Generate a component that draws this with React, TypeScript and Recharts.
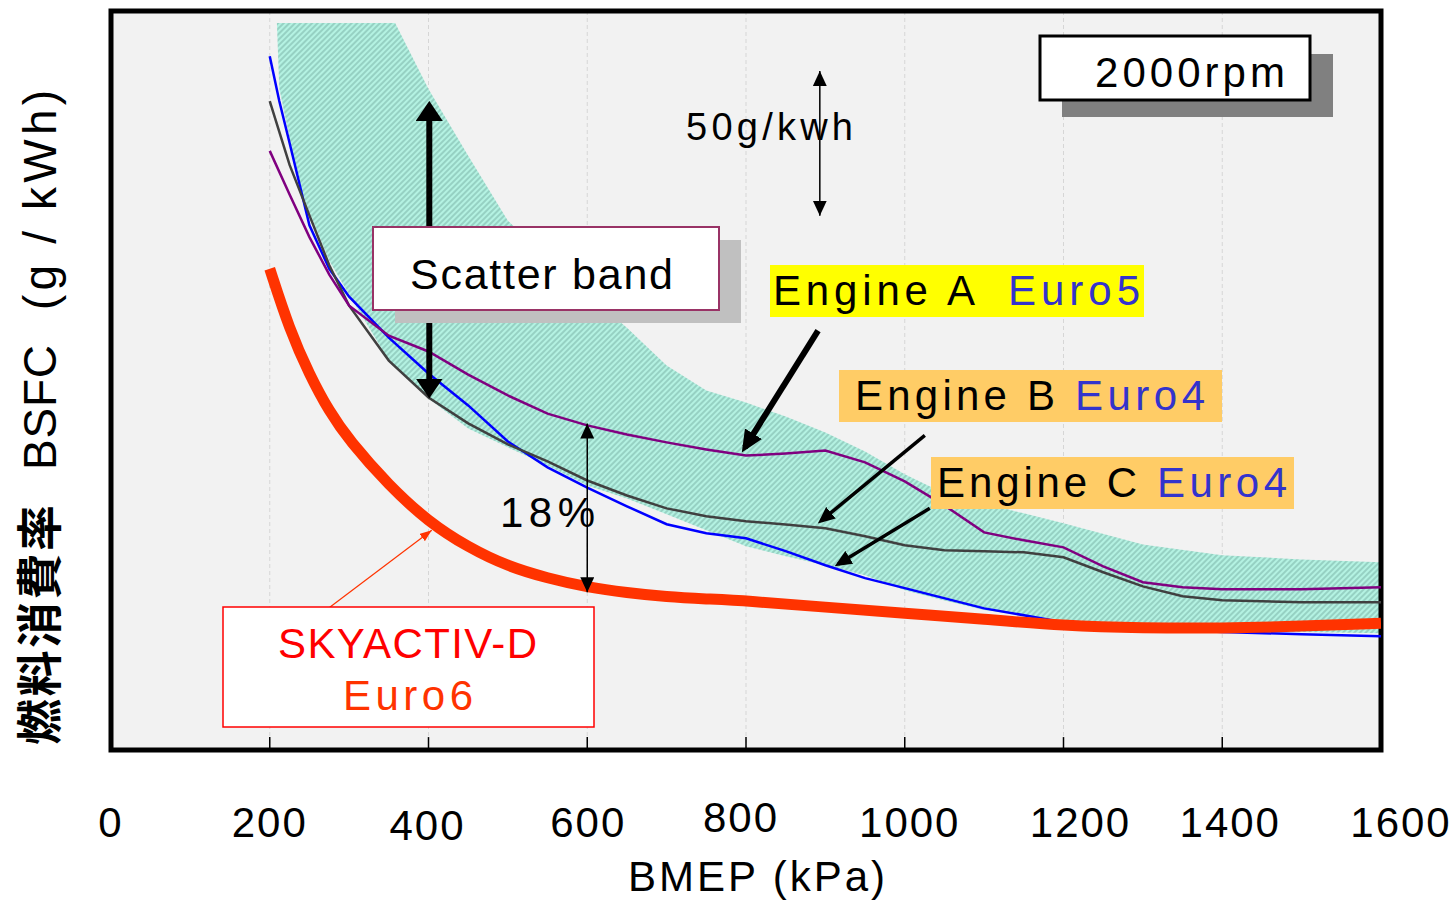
import React from "react";
import {
  ComposedChart,
  Line,
  Area,
  XAxis,
  YAxis,
  CartesianGrid,
  ReferenceLine,
  ReferenceArea,
} from "recharts";

// ---------- data ----------
const BMEP_TICKS = [0, 200, 400, 600, 800, 1000, 1200, 1400, 1600];

const SKY_BMEP = [200, 225, 250, 275, 300, 350, 400, 450, 500, 550, 600, 650, 700, 750, 800, 900, 1000, 1100, 1200, 1300, 1400, 1500, 1600];
const SKY_BSFC = [344.1, 323.3, 308.0, 295.4, 285.6, 270.2, 257.8, 249.1, 242.6, 238.6, 235.5, 233.6, 232.2, 231.5, 230.9, 228.7, 226.6, 224.6, 222.4, 221.6, 221.5, 222.2, 223.2];

const C_BMEP = [200, 212, 225, 250, 275, 300, 350, 400, 450, 500, 550, 600, 650, 700, 750, 800, 850, 900, 950, 1000, 1100, 1200, 1300, 1400, 1500, 1600];
const C_BSFC = [416.6, 401.3, 387.0, 358.9, 344.1, 334.6, 320.6, 308.4, 297.5, 285.2, 276.4, 269.5, 263.1, 257.0, 253.9, 252.2, 247.8, 243.0, 238.6, 235.2, 228.3, 223.6, 221.5, 220.2, 219.5, 218.8];

const B_BMEP = [200, 225, 250, 275, 300, 350, 400, 450, 500, 550, 600, 650, 700, 750, 800, 850, 900, 950, 1000, 1050, 1100, 1150, 1200, 1250, 1300, 1350, 1400, 1500, 1600];
const B_BSFC = [401.3, 379.5, 362.3, 345.3, 331.5, 312.8, 300.2, 291.4, 284.2, 278.4, 271.9, 266.8, 262.4, 259.7, 258.0, 256.9, 255.6, 252.9, 249.8, 248.1, 247.8, 247.4, 245.7, 240.6, 235.8, 232.4, 231.1, 230.4, 230.4];

const A_BMEP = [200, 225, 250, 275, 300, 350, 400, 450, 500, 550, 600, 650, 700, 750, 800, 850, 900, 950, 1000, 1050, 1100, 1150, 1200, 1250, 1300, 1350, 1400, 1500, 1600];
const A_BSFC = [384.3, 369.4, 354.9, 342.1, 331.5, 321.3, 315.9, 308.0, 300.9, 294.7, 290.7, 287.6, 284.9, 282.5, 280.4, 281.1, 282.1, 278.1, 271.6, 263.4, 254.2, 251.5, 249.1, 242.6, 237.2, 235.5, 234.8, 234.8, 235.5];

const BAND_BMEP = [209, 212, 225, 238, 250, 275, 300, 350, 358, 400, 450, 500, 550, 600, 650, 700, 750, 800, 850, 900, 950, 1000, 1050, 1100, 1150, 1200, 1300, 1400, 1500, 1600];
const BAND_LOW = [427.9, 405.7, 388.7, 371.7, 363.5, 346.8, 335.3, 312.8, 310.7, 299.9, 289.6, 283.2, 277.0, 270.2, 265.8, 260.4, 254.9, 249.5, 246.1, 243.0, 239.6, 234.5, 231.0, 227.7, 226.0, 224.3, 221.9, 220.5, 220.2, 219.8];
const BAND_HIGH = [427.9, 427.9, 427.9, 427.9, 427.9, 427.9, 427.9, 427.9, 427.9, 405.4, 382.6, 360.5, 347.5, 335.6, 324.0, 311.1, 302.6, 298.5, 293.7, 288.3, 281.8, 274.0, 267.5, 264.1, 260.7, 257.3, 250.1, 246.4, 245.0, 244.0];

// annotation arrows in data units: [x1, y1, x2, y2]
const ARROW_50G = [893, 362.2, 893, 411.5];
const ARROW_SCATTER = [401, 301.9, 401, 399.3];
const ARROW_18 = [600, 233.8, 600, 291.3];
const ARROW_A = [890.8, 323.0, 798.7, 283.2];
const ARROW_B = [1025.3, 287.3, 894.4, 258.1];
const ARROW_C = [1031.5, 262.4, 916.1, 243.4];
const ARROW_SKY = [275.6, 228.7, 404.1, 254.9];

const X_DOMAIN = [0, 1600];
const Y_DOMAIN = [180, 432];

// ---------- helpers ----------
const zip = (xs: number[], ys: number[]) => xs.map((x, i) => ({ x, y: ys[i] }));
const skyData = zip(SKY_BMEP, SKY_BSFC);
const cData = zip(C_BMEP, C_BSFC);
const bData = zip(B_BMEP, B_BSFC);
const aData = zip(A_BMEP, A_BSFC);
const bandData = BAND_BMEP.map((x, i) => ({ x, range: [BAND_LOW[i], BAND_HIGH[i]] }));

const SANS = "'Liberation Sans', Arial, sans-serif";
const CJK = "'Noto Sans CJK JP', 'Noto Sans CJK SC', sans-serif";

const TICK_NUDGE: Record<number, [number, number]> = {
  400: [-1, 3],
  600: [1, 0],
  800: [-5, -5],
  1000: [5, 0],
  1200: [17, 0],
  1400: [8, 0],
  1600: [20, 0],
};

const Tick = (props: any) => {
  const { x, y, payload } = props;
  const n = TICK_NUDGE[payload.value] || [0, 0];
  return (
    <text
      x={x + n[0]}
      y={y + 87 + n[1]}
      textAnchor="middle"
      fontSize={42}
      fontFamily={SANS}
      letterSpacing={2}
      fill="#000"
    >
      {payload.value}
    </text>
  );
};

const seg = (a: number[]) => [
  { x: a[0], y: a[1] },
  { x: a[2], y: a[3] },
];

const Marker = ({ id, L, W, refX, fill }: { id: string; L: number; W: number; refX: number; fill: string }) => (
  <marker
    id={id}
    viewBox={`0 0 ${L} ${W}`}
    refX={refX}
    refY={W / 2}
    markerWidth={L}
    markerHeight={W}
    markerUnits="userSpaceOnUse"
    orient="auto-start-reverse"
  >
    <path d={`M0,0 L${L},${W / 2} L0,${W} z`} fill={fill} />
  </marker>
);

export default function App() {
  return (
    <div style={{ position: "absolute", left: 0, top: 0, width: 1453, height: 901, background: "#fff" }}>
      <svg width={0} height={0} style={{ position: "absolute" }}>
        <defs>
          <pattern id="hatch" width="4" height="4" patternUnits="userSpaceOnUse" patternTransform="rotate(45)">
            <rect width="4" height="4" fill="#b4f2e2" />
            <line x1="1" y1="0" x2="1" y2="4" stroke="#86c0b3" strokeWidth="1.3" />
          </pattern>
          <Marker id="m-thin" L={15} W={14} refX={15} fill="#000" />
          <Marker id="m-big" L={20} W={27} refX={14} fill="#000" />
          <Marker id="m-a" L={22} W={20} refX={16} fill="#000" />
          <Marker id="m-bc" L={17} W={15} refX={13} fill="#000" />
          <Marker id="m-red" L={12} W={9} refX={12} fill="#ff3300" />
        </defs>
      </svg>
      <ComposedChart width={1453} height={901} margin={{ top: 11, right: 72, bottom: 91, left: 111 }}>
        <CartesianGrid horizontal={false} stroke="#d6d6d6" strokeDasharray="4 3" fill="#f2f2f2" />
        <XAxis
          type="number"
          dataKey="x"
          domain={X_DOMAIN}
          ticks={BMEP_TICKS}
          interval={0}
          allowDataOverflow
          axisLine={false}
          tickLine={false}
          tickSize={0}
          tickMargin={0}
          height={60}
          tick={<Tick />}
        />
        <YAxis type="number" domain={Y_DOMAIN} allowDataOverflow hide />
        <Area
          data={bandData}
          dataKey="range"
          type="linear"
          fill="url(#hatch)"
          fillOpacity={1}
          stroke="none"
          isAnimationActive={false}
        />
        <Line data={cData} dataKey="y" type="linear" stroke="#0000ff" strokeWidth={2.5} dot={false} isAnimationActive={false} />
        <Line data={bData} dataKey="y" type="linear" stroke="#404040" strokeWidth={2.5} dot={false} isAnimationActive={false} />
        <Line data={aData} dataKey="y" type="linear" stroke="#800080" strokeWidth={2.5} dot={false} isAnimationActive={false} />
        <Line data={skyData} dataKey="y" type="basis" stroke="#ff3300" strokeWidth={11} dot={false} isAnimationActive={false} />

        {BMEP_TICKS.slice(1, -1).map((t) => (
          <ReferenceLine key={"t" + t} segment={[{ x: t, y: 180 }, { x: t, y: 184.4 }]} stroke="#000" strokeWidth={1.5} />
        ))}

        <ReferenceLine segment={seg(ARROW_50G)} stroke="#000" strokeWidth={1.5} markerStart="url(#m-thin)" markerEnd="url(#m-thin)" />
        <ReferenceLine segment={seg(ARROW_SCATTER)} stroke="#000" strokeWidth={6} markerStart="url(#m-big)" markerEnd="url(#m-big)" />
        <ReferenceLine segment={seg(ARROW_18)} stroke="#000" strokeWidth={1.5} markerStart="url(#m-thin)" markerEnd="url(#m-thin)" />
        <ReferenceLine segment={seg(ARROW_A)} stroke="#000" strokeWidth={6} markerEnd="url(#m-a)" />
        <ReferenceLine segment={seg(ARROW_B)} stroke="#000" strokeWidth={3.5} markerEnd="url(#m-bc)" />
        <ReferenceLine segment={seg(ARROW_C)} stroke="#000" strokeWidth={3.5} markerEnd="url(#m-bc)" />
        <ReferenceLine segment={seg(ARROW_SKY)} stroke="#ff3300" strokeWidth={1.2} markerEnd="url(#m-red)" />

        <ReferenceArea
          x1={X_DOMAIN[0]}
          x2={X_DOMAIN[1]}
          y1={Y_DOMAIN[0]}
          y2={Y_DOMAIN[1]}
          fill="none"
          stroke="#000"
          strokeWidth={5}
          ifOverflow="visible"
        />
      </ComposedChart>

      <svg
        width={1453}
        height={901}
        style={{ position: "absolute", left: 0, top: 0, pointerEvents: "none" }}
        fontFamily={SANS}
      >
        {/* 2000rpm */}
        <rect x={1062} y={54} width={271} height={63} fill="#808080" />
        <rect x={1040} y={36} width={270} height={64} fill="#fff" stroke="#000" strokeWidth={3} />
        <text x={1095} y={87} fontSize={42} textLength={190} lengthAdjust="spacing" fill="#000">2000rpm</text>

        {/* 50g/kwh */}
        <text x={686} y={140} fontSize={38} textLength={167} lengthAdjust="spacing" fill="#000">50g/kwh</text>

        {/* Scatter band */}
        <rect x={395} y={240} width={346} height={83} fill="#c0c0c0" />
        <rect x={373} y={227} width={346} height={83} fill="#fff" stroke="#993366" strokeWidth={2} />
        <text x={410} y={289} fontSize={43} textLength={263} lengthAdjust="spacing" fill="#000">Scatter band</text>

        {/* Engine A */}
        <rect x={770} y={265} width={374} height={52} fill="#ffff00" />
        <text x={773} y={305} fontSize={42} textLength={202} lengthAdjust="spacing" fill="#000">Engine A</text>
        <text x={1008} y={305} fontSize={42} textLength={132} lengthAdjust="spacing" fill="#3333cc">Euro5</text>

        {/* Engine B */}
        <rect x={839} y={370} width={383} height={52} fill="#ffcc66" />
        <text x={855} y={410} fontSize={42} textLength={200} lengthAdjust="spacing" fill="#000">Engine B</text>
        <text x={1075} y={410} fontSize={42} textLength={130} lengthAdjust="spacing" fill="#3333cc">Euro4</text>

        {/* Engine C */}
        <rect x={931} y={457} width={363} height={52} fill="#ffcc66" />
        <text x={937} y={497} fontSize={42} textLength={200} lengthAdjust="spacing" fill="#000">Engine C</text>
        <text x={1157} y={497} fontSize={42} textLength={130} lengthAdjust="spacing" fill="#3333cc">Euro4</text>

        {/* 18% */}
        <text x={500} y={527} fontSize={42} textLength={95} lengthAdjust="spacing" fill="#000">18%</text>

        {/* SKYACTIV-D */}
        <rect x={223} y={607} width={371} height={120} fill="#fff" stroke="#ff0000" strokeWidth={1.5} />
        <text x={278} y={658} fontSize={42} textLength={259} lengthAdjust="spacing" fill="#ff0000">SKYACTIV-D</text>
        <text x={343} y={710} fontSize={42} textLength={130} lengthAdjust="spacing" fill="#ff3300">Euro6</text>

        {/* axis titles */}
        <text x={628} y={891} fontSize={42} textLength={257} lengthAdjust="spacing" fill="#000">BMEP (kPa)</text>

        <g transform="rotate(-90 56 745)">
          <text x={56} y={745} fontSize={46} fontFamily={CJK} fontWeight="bold" textLength={240} lengthAdjust="spacing" fill="#000">燃料消費率</text>
          <text x={56 + 275} y={745} fontSize={46} textLength={125} lengthAdjust="spacing" fill="#000">BSFC</text>
          <text x={56 + 435} y={745} fontSize={46} textLength={220} lengthAdjust="spacing" fill="#000">(g / kWh)</text>
        </g>
      </svg>
    </div>
  );
}
